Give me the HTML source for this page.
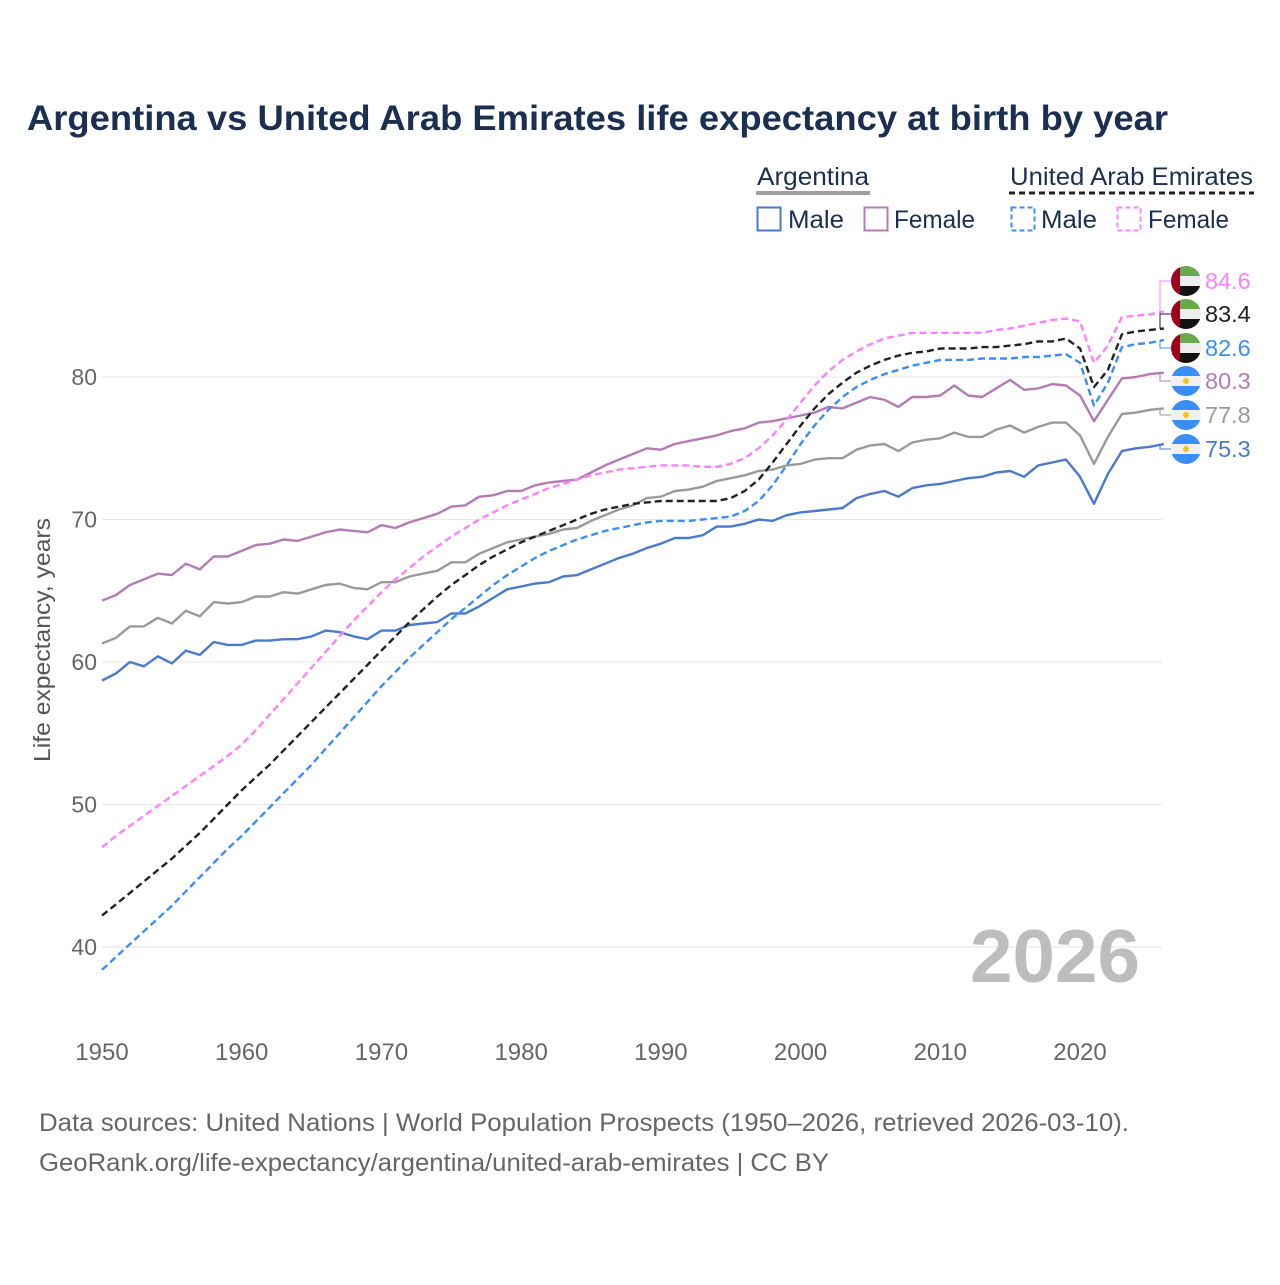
<!DOCTYPE html>
<html><head><meta charset="utf-8">
<style>
html,body{margin:0;padding:0;background:#fff;}
body{width:1280px;height:1280px;overflow:hidden;font-family:"Liberation Sans",sans-serif;}
svg text{font-family:"Liberation Sans",sans-serif;}
</style></head>
<body>
<svg id="chart" width="1280" height="1280" viewBox="0 0 1280 1280" xmlns="http://www.w3.org/2000/svg">
<text x="27" y="130" font-size="35" font-weight="bold" fill="#1b2f50" textLength="1141" lengthAdjust="spacingAndGlyphs">Argentina vs United Arab Emirates life expectancy at birth by year</text>
<g font-size="25" fill="#1b2f50">
 <text x="757" y="185" fill="#1b2f50" textLength="112" lengthAdjust="spacingAndGlyphs">Argentina</text>
 <line x1="756" y1="193" x2="870" y2="193" stroke="#a0a0a0" stroke-width="4"/>
 <text x="1010" y="185" fill="#1b2f50" textLength="243" lengthAdjust="spacingAndGlyphs">United Arab Emirates</text>
 <line x1="1009" y1="193" x2="1254" y2="193" stroke="#222" stroke-width="3" stroke-dasharray="6,4"/>
 <rect x="757.5" y="207.5" width="23" height="23" fill="none" stroke="#4a7acb" stroke-width="2"/>
 <text x="788" y="228" fill="#1b2f50" textLength="56" lengthAdjust="spacingAndGlyphs">Male</text>
 <rect x="864.5" y="207.5" width="23" height="23" fill="none" stroke="#b57bb5" stroke-width="2"/>
 <text x="894" y="228" fill="#1b2f50" textLength="81" lengthAdjust="spacingAndGlyphs">Female</text>
 <rect x="1011.5" y="207.5" width="23" height="23" fill="none" stroke="#3b8ef5" stroke-width="2" stroke-dasharray="5,3"/>
 <text x="1041" y="228" fill="#1b2f50" textLength="56" lengthAdjust="spacingAndGlyphs">Male</text>
 <rect x="1117.5" y="207.5" width="23" height="23" fill="none" stroke="#ff85ff" stroke-width="2" stroke-dasharray="5,3"/>
 <text x="1148" y="228" fill="#1b2f50" textLength="81" lengthAdjust="spacingAndGlyphs">Female</text>
</g>
<g id="grid"></g>
<text x="1140" y="982" font-size="75" font-weight="bold" fill="#bdbdbd" text-anchor="end" textLength="170" lengthAdjust="spacingAndGlyphs">2026</text>
<g id="series"></g>
<g id="endlabels"></g>
<text transform="translate(50,640) rotate(-90)" font-size="23" fill="#555" text-anchor="middle" textLength="244" lengthAdjust="spacingAndGlyphs">Life expectancy, years</text>
<text x="39" y="1131" font-size="25" fill="#666" textLength="1090" lengthAdjust="spacingAndGlyphs">Data sources: United Nations | World Population Prospects (1950–2026, retrieved 2026-03-10).</text>
<text x="39" y="1171" font-size="25" fill="#666" textLength="790" lengthAdjust="spacingAndGlyphs">GeoRank.org/life-expectancy/argentina/united-arab-emirates | CC BY</text>
</svg>
<script>
const startYear = 1950;
const xTicks = [1950,1960,1970,1980,1990,2000,2010,2020];
const yTicks = [40,50,60,70,80];
const argMale = [58.7,59.2,60.0,59.7,60.4,59.9,60.8,60.5,61.4,61.2,
61.2,61.5,61.5,61.6,61.6,61.8,62.2,62.1,61.8,61.6,
62.2,62.2,62.6,62.7,62.8,63.4,63.4,63.9,64.5,65.1,
65.3,65.5,65.6,66.0,66.1,66.5,66.9,67.3,67.6,68.0,
68.3,68.7,68.7,68.9,69.5,69.5,69.7,70.0,69.9,70.3,
70.5,70.6,70.7,70.8,71.5,71.8,72.0,71.6,72.2,72.4,
72.5,72.7,72.9,73.0,73.3,73.4,73.0,73.8,74.0,74.2,
73.0,71.1,73.2,74.8,75.0,75.1,75.3];
const argTotal = [61.3,61.7,62.5,62.5,63.1,62.7,63.6,63.2,64.2,64.1,
64.2,64.6,64.6,64.9,64.8,65.1,65.4,65.5,65.2,65.1,
65.6,65.6,66.0,66.2,66.4,67.0,67.0,67.6,68.0,68.4,
68.6,68.8,69.0,69.3,69.4,69.9,70.3,70.7,71.0,71.5,
71.6,72.0,72.1,72.3,72.7,72.9,73.1,73.4,73.5,73.8,
73.9,74.2,74.3,74.3,74.9,75.2,75.3,74.8,75.4,75.6,
75.7,76.1,75.8,75.8,76.3,76.6,76.1,76.5,76.8,76.8,
75.9,73.9,75.8,77.4,77.5,77.7,77.8];
const argFemale = [64.3,64.7,65.4,65.8,66.2,66.1,66.9,66.5,67.4,67.4,
67.8,68.2,68.3,68.6,68.5,68.8,69.1,69.3,69.2,69.1,
69.6,69.4,69.8,70.1,70.4,70.9,71.0,71.6,71.7,72.0,
72.0,72.4,72.6,72.7,72.8,73.3,73.8,74.2,74.6,75.0,
74.9,75.3,75.5,75.7,75.9,76.2,76.4,76.8,76.9,77.1,
77.3,77.5,77.9,77.8,78.2,78.6,78.4,77.9,78.6,78.6,
78.7,79.4,78.7,78.6,79.2,79.8,79.1,79.2,79.5,79.4,
78.7,76.9,78.4,79.9,80.0,80.2,80.3];
const uaeTotal = [42.2,43.0,43.8,44.6,45.4,46.2,47.1,48.0,49.0,50.0,
51.0,51.9,52.8,53.8,54.8,55.8,56.8,57.8,58.8,59.8,
60.8,61.8,62.8,63.7,64.6,65.4,66.1,66.8,67.4,67.9,
68.4,68.8,69.2,69.6,70.0,70.4,70.7,70.9,71.1,71.2,
71.3,71.3,71.3,71.3,71.3,71.5,72.0,72.8,74.0,75.3,
76.6,77.8,78.8,79.6,80.3,80.8,81.2,81.5,81.7,81.8,
82.0,82.0,82.0,82.1,82.1,82.2,82.3,82.5,82.5,82.7,
82.0,79.3,80.5,83.0,83.2,83.3,83.4];
const uaeMale = [38.4,39.3,40.2,41.1,42.0,42.9,43.9,44.9,45.9,46.9,
47.8,48.8,49.8,50.8,51.8,52.8,53.9,55.0,56.1,57.2,
58.3,59.3,60.3,61.2,62.1,63.0,63.8,64.6,65.4,66.1,
66.7,67.3,67.8,68.2,68.6,68.9,69.2,69.4,69.6,69.8,
69.9,69.9,69.9,70.0,70.1,70.2,70.6,71.3,72.4,73.8,
75.3,76.6,77.7,78.6,79.3,79.8,80.2,80.5,80.8,81.0,
81.2,81.2,81.2,81.3,81.3,81.3,81.4,81.4,81.5,81.6,
81.0,78.0,79.6,82.1,82.3,82.4,82.6];
const uaeFemale = [47.0,47.8,48.5,49.2,49.9,50.6,51.3,52.0,52.7,53.4,
54.2,55.2,56.3,57.4,58.5,59.6,60.7,61.8,62.9,63.9,
64.9,65.8,66.6,67.4,68.1,68.8,69.4,70.0,70.5,71.0,
71.4,71.8,72.2,72.5,72.8,73.1,73.3,73.5,73.6,73.7,
73.8,73.8,73.8,73.7,73.7,73.9,74.3,75.0,75.9,77.0,
78.2,79.4,80.4,81.2,81.8,82.3,82.7,82.9,83.1,83.1,
83.1,83.1,83.1,83.1,83.3,83.4,83.6,83.8,84.0,84.1,
83.9,81.0,82.2,84.2,84.3,84.4,84.6];

const NS = "http://www.w3.org/2000/svg";
const xScale = yr => 102 + (yr - 1950) * (978 / 70);
const yScale = v => 377 + (80 - v) * 14.25;
const grid = document.getElementById('grid');
yTicks.forEach(t => {
  const l = document.createElementNS(NS,'line');
  
  
  l.setAttribute('x1', 102); l.setAttribute('x2', 1162);
  l.setAttribute('y1', yScale(t)); l.setAttribute('y2', yScale(t));
  l.setAttribute('stroke', '#e6e6e6'); l.setAttribute('stroke-width', '1');
  grid.appendChild(l);
  const tx = document.createElementNS(NS,'text');
  
  
  tx.setAttribute('x', 97); tx.setAttribute('y', yScale(t) + 8);
  tx.setAttribute('text-anchor', 'end'); tx.setAttribute('font-size', '23'); tx.setAttribute('fill', '#666');
  tx.textContent = t;
  grid.appendChild(tx);
});
xTicks.forEach(t => {
  const tx = document.createElementNS(NS,'text');
  
  
  tx.setAttribute('x', xScale(t)); tx.setAttribute('y', 1060);
  tx.setAttribute('text-anchor', 'middle'); tx.setAttribute('font-size', '24'); tx.setAttribute('fill', '#666');
  tx.textContent = t;
  grid.appendChild(tx);
});
const seriesDefs = [
  {name:'uae-female-line', data:uaeFemale, color:'#ff80ff', dash:'7,4', label:'#ff80ff', flag:'uae', ly:281},
  {name:'uae-total-line', data:uaeTotal, color:'#222', dash:'7,4', label:'#222', flag:'uae', ly:314},
  {name:'uae-male-line', data:uaeMale, color:'#3b8ef5', dash:'7,4', label:'#3b8ef5', flag:'uae', ly:348},
  {name:'argentina-female-line', data:argFemale, color:'#b57bb5', dash:null, label:'#b57bb5', flag:'arg', ly:381},
  {name:'argentina-total-line', data:argTotal, color:'#9a9a9a', dash:null, label:'#9a9a9a', flag:'arg', ly:415},
  {name:'argentina-male-line', data:argMale, color:'#4a7acb', dash:null, label:'#4a7acb', flag:'arg', ly:449}
];
const sg = document.getElementById('series');
const eg = document.getElementById('endlabels');
[...seriesDefs].reverse().forEach(s => {
  const p = document.createElementNS(NS,'path');
  
  
  p.setAttribute('d', s.data.map((v,i)=>(i?'L':'M')+xScale(startYear+i).toFixed(1)+','+yScale(v).toFixed(1)).join(''));
  p.setAttribute('fill','none'); p.setAttribute('stroke', s.color); p.setAttribute('stroke-width','2.4');
  p.setAttribute('stroke-linejoin','round');
  if (s.dash) p.setAttribute('stroke-dasharray', s.dash);
  sg.appendChild(p);
});
seriesDefs.forEach(s => {
  const last = s.data[s.data.length-1];
  const ey = yScale(last);
  const c = document.createElementNS(NS,'path');
  
  
  c.setAttribute('d', `M1162,${ey}H1160V${s.ly}H1172`);
  c.setAttribute('d', `M1162,${ey}V${ey}M1160,${ey}V${s.ly}H1172`);
  c.setAttribute('fill','none'); c.setAttribute('stroke', s.color); c.setAttribute('stroke-width','1');
  eg.appendChild(c);
  const g = document.createElementNS(NS,'g');
  
  
  const cx = 1186, cy = s.ly, r = 15;
  const id = 'clip' + s.ly;
  let inner = `<clipPath id="${id}"><circle cx="${cx}" cy="${cy}" r="${r}"/></clipPath><g clip-path="url(#${id})">`;
  if (s.flag === 'uae') {
    inner += `<rect x="${cx-r}" y="${cy-r}" width="${2*r}" height="10" fill="#6aa84f"/>`+
      `<rect x="${cx-r}" y="${cy-5}" width="${2*r}" height="10" fill="#eeeeee"/>`+
      `<rect x="${cx-r}" y="${cy+5}" width="${2*r}" height="10" fill="#111"/>`+
      `<rect x="${cx-r}" y="${cy-r}" width="9" height="${2*r}" fill="#a0001b"/>`;
  } else {
    inner += `<rect x="${cx-r}" y="${cy-r}" width="${2*r}" height="10" fill="#3b8ef5"/>`+
      `<rect x="${cx-r}" y="${cy-5}" width="${2*r}" height="10" fill="#f0f0f0"/>`+
      `<rect x="${cx-r}" y="${cy+5}" width="${2*r}" height="10" fill="#3b8ef5"/>`+
      `<circle cx="${cx}" cy="${cy}" r="3" fill="#f5c518"/>`;
  }
  inner += `</g>`;
  g.innerHTML = inner;
  eg.appendChild(g);
  const t = document.createElementNS(NS,'text');
  
  
  t.setAttribute('x', 1205); t.setAttribute('y', s.ly + 8);
  t.setAttribute('font-size','23.5'); t.setAttribute('fill', s.label);
  t.textContent = last.toFixed(1);
  eg.appendChild(t);
});
</script>
</body></html>
